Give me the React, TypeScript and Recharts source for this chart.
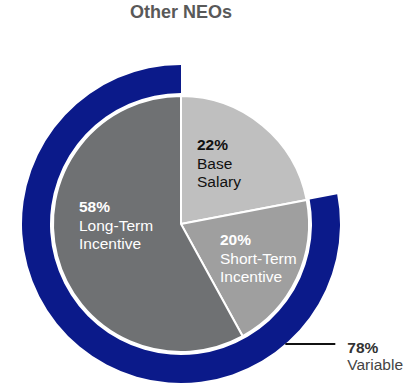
import { Cell, Pie, PieChart } from "recharts"

const categories = ["Base Salary", "Short-Term Incentive", "Long-Term Incentive"]
const labelLines = [
  ["Base", "Salary"],
  ["Short-Term", "Incentive"],
  ["Long-Term", "Incentive"],
]
const shares = [22, 20, 58]

const ringNames = ["Fixed", "Variable"]
const ringValues = [22, 78]

const pieData = categories.map((name, i) => ({ name, value: shares[i] }))
const ringData = ringNames.map((name, i) => ({ name, value: ringValues[i] }))

const sliceColors = ["#bfbfbf", "#9f9f9f", "#6f7173"]
const sliceText = ["#111111", "#ffffff", "#ffffff"]
// label anchor offsets from pie centre (first baseline, left edge)
const labelOffsets = [
  { dx: 16, dy: -74 },
  { dx: 39, dy: 21 },
  { dx: -102, dy: -12 },
]
const NAVY = "#0b1a8a"
const FONT = "'Liberation Sans', Arial, sans-serif"

function SliceLabel(props: any) {
  const { cx, cy, index, value } = props
  const off = labelOffsets[index]
  const x = cx + off.dx
  const y = cy + off.dy
  return (
    <text x={x} y={y} fill={sliceText[index]} fontFamily={FONT} fontSize={15.5}>
      <tspan x={x} y={y} fontWeight="bold">
        {value}%
      </tspan>
      {labelLines[index].map((line, k) => (
        <tspan key={k} x={x} y={y + 18.5 * (k + 1)}>
          {line}
        </tspan>
      ))}
    </text>
  )
}

function RingLabel(props: any) {
  const { cx, cy, outerRadius, index, value, name } = props
  if (index !== 1) return null
  const a = (-49 * Math.PI) / 180
  const x0 = cx + outerRadius * Math.cos(a)
  const y0 = cy - outerRadius * Math.sin(a)
  const x1 = x0 + 50
  return (
    <g>
      <line x1={x0} y1={y0} x2={x1} y2={y0} stroke="#111" strokeWidth={2} />
      <text x={x1 + 12} y={y0 + 9} fill="#333" fontFamily={FONT} fontSize={15.5}>
        <tspan x={x1 + 12} y={y0 + 9} fontWeight="bold">
          {value}%
        </tspan>
        <tspan x={x1 + 12} y={y0 + 26} fill="#444">
          {name}
        </tspan>
      </text>
    </g>
  )
}

export default function App() {
  return (
    <div style={{ position: "absolute", left: 0, top: 0, width: 409, height: 391, background: "#fff" }}>
      <div
        style={{
          position: "absolute",
          top: 1,
          left: 0,
          width: 362,
          textAlign: "center",
          fontFamily: FONT,
          fontWeight: "bold",
          fontSize: 18,
          lineHeight: "22px",
          color: "#595959",
        }}
      >
        Other NEOs
      </div>
      <PieChart width={409} height={391} margin={{ top: 0, right: 0, bottom: 0, left: 0 }}>
        <Pie
          data={ringData}
          dataKey="value"
          cx={181}
          cy={224}
          innerRadius={131}
          outerRadius={159}
          startAngle={90}
          endAngle={-270}
          stroke="none"
          label={RingLabel}
          labelLine={false}
          isAnimationActive={false}
        >
          {ringData.map((d, i) => (
            <Cell key={d.name} fill={i === 1 ? NAVY : "transparent"} />
          ))}
        </Pie>
        <Pie
          data={pieData}
          dataKey="value"
          cx={181}
          cy={224}
          outerRadius={128}
          startAngle={90}
          endAngle={-270}
          stroke="#fff"
          strokeWidth={2}
          label={SliceLabel}
          labelLine={false}
          isAnimationActive={false}
        >
          {pieData.map((d, i) => (
            <Cell key={d.name} fill={sliceColors[i]} />
          ))}
        </Pie>
      </PieChart>
    </div>
  )
}
